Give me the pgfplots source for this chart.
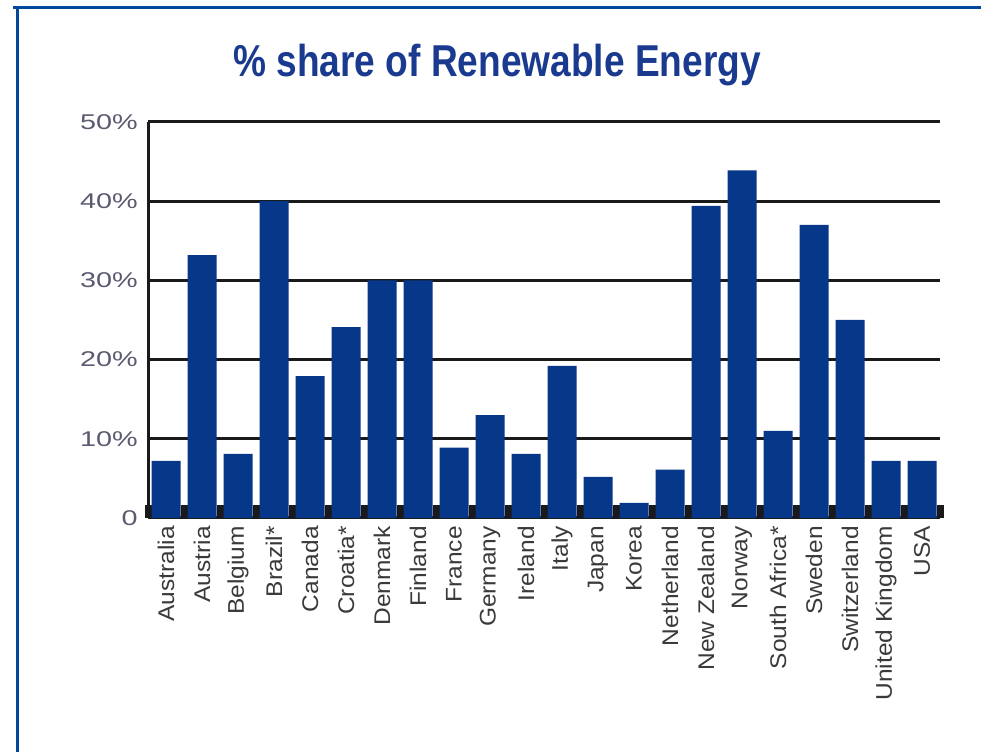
\documentclass[border=0pt]{standalone}
\usepackage{fontspec}
\setmainfont{Liberation Sans}
\newfontfamily\titlefont[FakeStretch=0.83]{Liberation Sans}
\newfontfamily\xlabfont[FakeStretch=1.08]{Liberation Sans}
\newfontfamily\ylabfont[FakeStretch=1.35]{Liberation Sans}
\usepackage{pgfplots}
\pgfplotsset{compat=1.18}
\definecolor{barblue}{HTML}{063789}
\definecolor{titleblue}{HTML}{1A3A8F}
\definecolor{framecol}{HTML}{00489A}
\definecolor{gridcol}{HTML}{1A1A1A}
\definecolor{xlabcol}{HTML}{3A3A3A}
\definecolor{ylabcol}{HTML}{5A5A70}
\begin{document}
\begin{tikzpicture}[x=0.75pt,y=0.75pt]
\path[use as bounding box] (0,0) rectangle (981,752);
\draw[framecol, line width=2.25pt] (13,744.5) -- (981,744.5);
\draw[framecol, line width=2.25pt] (17.5,746) -- (17.5,0);
\node[anchor=base, text=titleblue, font=\titlefont\bfseries\fontsize{33.5pt}{36pt}\selectfont] at (497,675) {\% share of Renewable Energy};
\begin{axis}[
  at={(111pt,175.5pt)}, anchor=south west,
  scale only axis, width=594pt, height=297pt,
  xmin=-0.5, xmax=21.5, ymin=0, ymax=50,
  axis x line=bottom, axis y line=left,
  axis line style={-, gridcol, line width=2.25pt},
  ybar, bar width=21.75pt,
  ymajorgrids, grid style={gridcol, line width=2.25pt},
  xtick={0,...,21},
  xticklabels={Australia,Austria,Belgium,Brazil*,Canada,Croatia*,Denmark,Finland,France,Germany,Ireland,Italy,Japan,Korea,Netherland,New Zealand,Norway,South Africa*,Sweden,Switzerland,United Kingdom,USA},
  minor xtick={-0.5,0.5,...,21.5},
  major tick length=0pt,
  minor tick length=9.75pt,
  tick align=inside,
  every minor tick/.style={gridcol, line width=5.25pt},
  ytick={0,10,20,30,40,50},
  yticklabels={0,10\%,20\%,30\%,40\%,50\%},
  xticklabel style={rotate=90, anchor=east, inner sep=0pt, text=xlabcol, font=\xlabfont\fontsize{17pt}{19pt}\selectfont},
  yticklabel style={anchor=east, inner sep=0pt, text=ylabcol, font=\ylabfont\fontsize{16pt}{18pt}\selectfont},
  xticklabel shift=6pt,
  yticklabel shift=7.5pt,
]
\addplot[draw=none, fill=barblue] coordinates {
  (0,7.2) (1,33.2) (2,8.1) (3,40.0) (4,17.9) (5,24.1) (6,30.0) (7,30.0)
  (8,8.9) (9,13.0) (10,8.1) (11,19.2) (12,5.2) (13,1.9) (14,6.1)
  (15,39.4) (16,43.9) (17,11.0) (18,37.0) (19,25.0) (20,7.2) (21,7.2)
};
\end{axis}
\end{tikzpicture}
\end{document}
